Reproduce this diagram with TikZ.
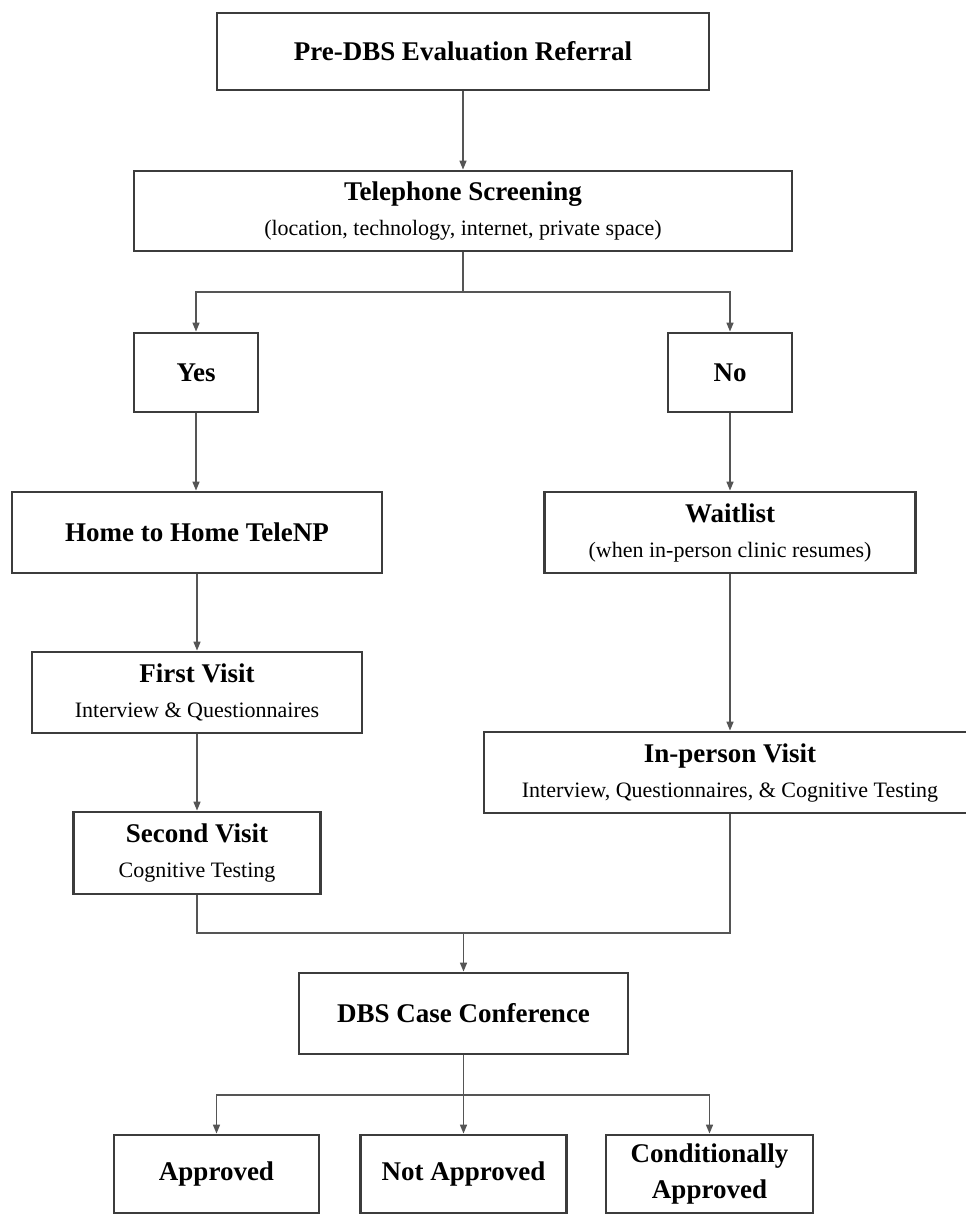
\documentclass[tikz,border=0pt]{standalone}
\usepackage{fontspec}
\setmainfont{Liberation Serif}
\usetikzlibrary{arrows.meta}

\definecolor{boxgray}{HTML}{3C3C3C}
\definecolor{linegray}{HTML}{555555}
\newcommand{\subline}[1]{{\fontsize{22}{32}\selectfont\mdseries #1}}

\begin{document}
\begin{tikzpicture}[x=1pt, y=-1pt,
  every node/.style={font=\fontsize{27}{32}\selectfont\bfseries},
  box/.style={rectangle, draw=boxgray, line width=2.8pt, align=center, inner sep=0pt},
  conn/.style={draw=linegray, line width=1.5pt},
  arr/.style={conn, -{Triangle[length=9pt, width=7pt]}}]
  \useasboundingbox (0,0) rectangle (966,1215);
  % Referral and screening
  \node[box, minimum width=492pt, minimum height=77pt] (ref) at (463,51.5) {Pre-DBS Evaluation Referral};
  \node[box, minimum width=658pt, minimum height=80pt] (tel) at (463,211) {Telephone Screening\\[3pt]\subline{(location, technology, internet, private space)}};
  % Screening outcome
  \node[box, minimum width=124pt, minimum height=79pt] (yes) at (196,372.5) {Yes};
  \node[box, minimum width=124pt, minimum height=79pt] (no) at (730,372.5) {No};
  % Left branch: tele visits
  \node[box, minimum width=370pt, minimum height=81pt] (home) at (197,532.5) {Home to Home TeleNP};
  \node[box, minimum width=330pt, minimum height=81pt] (first) at (197,692.5) {First Visit\\[3pt]\subline{Interview \& Questionnaires}};
  \node[box, minimum width=247pt, minimum height=82pt] (second) at (197,853) {Second Visit\\[3pt]\subline{Cognitive Testing}};
  % Right branch: waitlist and in-person
  \node[box, minimum width=371pt, minimum height=81pt] (wait) at (730,532.5) {Waitlist\\[3pt]\subline{(when in-person clinic resumes)}};
  \node[box, minimum width=492pt, minimum height=81pt] (inp) at (730,772.5) {In-person Visit\\[3pt]\subline{Interview, Questionnaires, \& Cognitive Testing}};
  % Conference and decisions
  \node[box, minimum width=329pt, minimum height=81pt] (conf) at (463.5,1013.5) {DBS Case Conference};
  \node[box, minimum width=205pt, minimum height=78pt] (appr) at (216.5,1174) {Approved};
  \node[box, minimum width=206pt, minimum height=78pt] (notappr) at (463.5,1174) {Not Approved};
  \node[box, minimum width=207pt, minimum height=78pt] (cond) at (709.5,1174) {Conditionally\\[4pt]Approved};
  % Junction points
  \coordinate (split) at (463,292);
  \coordinate (join) at (463.5,933);
  \coordinate (fan) at (463.5,1095);
  % Connectors
  \draw[arr] (ref) -- (tel);
  \draw[conn] (tel.south) -- (split);
  \draw[arr] (split) -| (yes.north);
  \draw[arr] (split) -| (no.north);
  \draw[arr] (yes.south) -- (yes.south |- home.north);
  \draw[arr] (home.south) -- (first.north);
  \draw[arr] (first.south) -- (second.north);
  \draw[arr] (no.south) -- (wait.north);
  \draw[arr] (wait.south) -- (inp.north);
  \draw[conn] (second.south) |- (join) -| (inp.south);
  \draw[arr] (join) -- (conf.north);
  \draw[conn] (conf.south) -- (fan);
  \draw[arr] (fan) -| (appr.north);
  \draw[arr] (fan) -- (notappr.north);
  \draw[arr] (fan) -| (cond.north);
\end{tikzpicture}
\end{document}
